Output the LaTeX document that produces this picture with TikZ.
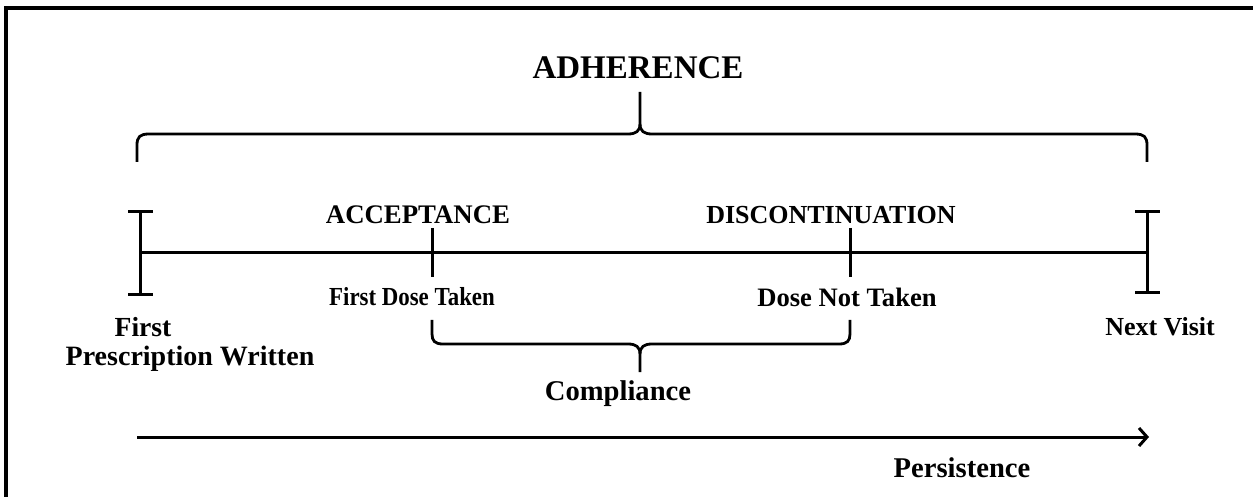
\documentclass[tikz,border=0pt]{standalone}
\usepackage{fontspec}
\setmainfont{Liberation Serif}
\newfontfamily\condserif[FakeStretch=0.88]{Liberation Serif}
\usetikzlibrary{arrows.meta}
\begin{document}
\begin{tikzpicture}[x=0.5pt,y=-0.5pt,
  lbl/.style={inner sep=0pt, font=\bfseries},
  ln/.style={line width=1.5pt},
  br/.style={line width=1.4pt, line join=round}]
\useasboundingbox (0,0) rectangle (1253,497);
% frame
\draw[line width=1.6pt] (6,497) -- (6,8) -- (1253,8);

% ADHERENCE
\node[lbl, font=\fontsize{16.5pt}{19pt}\selectfont\bfseries] (adh) at (638,68) {ADHERENCE};
% top brace
\coordinate (tbl) at (137,162);
\coordinate (tbr) at (1147,162);
\coordinate (tbc) at (640,92);
\draw[br] (tbl) -- (137,145) .. controls (137,137) and (140,134) .. (149,134) -- (628,134)
  .. controls (636,134) and (640,131) .. (640,124) -- (tbc);
\draw[br] (640,124) .. controls (640,131) and (644,134) .. (652,134) -- (1135,134)
  .. controls (1144,134) and (1147,137) .. (1147,145) -- (tbr);

% timeline
\coordinate (L) at (140,253);
\coordinate (R) at (1147,253);
\draw[ln] (L) -- (R);
\draw[ln] (140,212) -- (140,295);
\draw[ln] (128,212) -- (153,212);
\draw[ln] (128,295) -- (153,295);
\draw[ln] (1147,212) -- (1147,293);
\draw[ln] (1135,212) -- (1160,212);
\draw[ln] (1135,293) -- (1160,293);
\coordinate (acc) at (432,253);
\coordinate (dis) at (850,253);
\draw[ln] (432,228) -- (432,277);
\draw[ln] (850,228) -- (850,277);

% labels on the timeline
\node[lbl, font=\fontsize{13.4pt}{16pt}\selectfont\bfseries] (accl) at (418,215) {ACCEPTANCE};
\node[lbl, font=\fontsize{13pt}{16pt}\selectfont\bfseries] (disl) at (831,215) {DISCONTINUATION};
\node[lbl, font=\condserif\fontsize{13pt}{16pt}\selectfont\bfseries] (fdt) at (412,297) {First Dose Taken};
\node[lbl, font=\fontsize{13.3pt}{16pt}\selectfont\bfseries] (dnt) at (847,297) {Dose Not Taken};
\node[lbl, font=\fontsize{13.8pt}{16pt}\selectfont\bfseries] (first) at (143,327) {First};
\node[lbl, font=\fontsize{14pt}{16pt}\selectfont\bfseries] (presc) at (190,359) {Prescription Written};
\node[lbl, font=\fontsize{13pt}{16pt}\selectfont\bfseries] (next) at (1160,327) {Next Visit};

% compliance brace
\coordinate (cbl) at (432,320);
\coordinate (cbr) at (850,320);
\coordinate (cbc) at (640,372);
\draw[br] (cbl) -- (432,334) .. controls (432,341) and (435,344) .. (443,344) -- (628,344)
  .. controls (636,344) and (640,347) .. (640,354) -- (cbc);
\draw[br] (640,354) .. controls (640,347) and (644,344) .. (652,344) -- (839,344)
  .. controls (847,344) and (850,341) .. (850,334) -- (cbr);
\node[lbl, font=\fontsize{14.3pt}{16pt}\selectfont\bfseries] (comp) at (618,394) {Compliance};

% persistence arrow
\coordinate (pa) at (137,437);
\coordinate (pb) at (1149,437);
\draw[ln, -{Straight Barb[length=4pt,width=9pt,line width=1.5pt]}] (pa) -- (pb);
\node[lbl, font=\fontsize{14.3pt}{16pt}\selectfont\bfseries] (pers) at (962,468) {Persistence};
\end{tikzpicture}
\end{document}
